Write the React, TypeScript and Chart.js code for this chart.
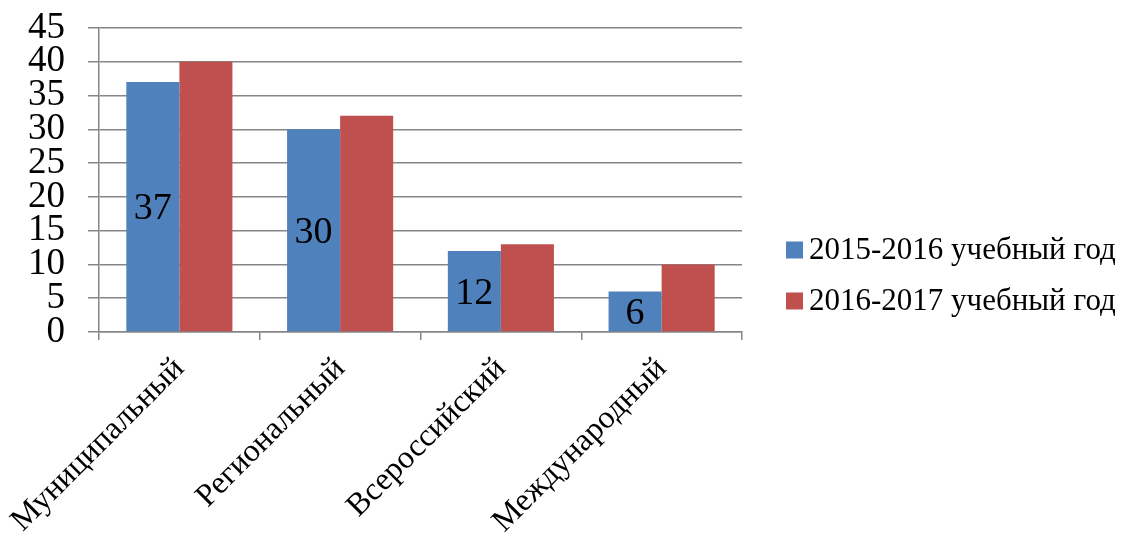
import React, { useEffect, useRef } from "react";
import { Chart, registerables } from "chart.js";

Chart.register(...registerables);

const categories = ["Муниципальный", "Региональный", "Всероссийский", "Международный"];
const series2015 = [37, 30, 12, 6];
const series2016 = [40, 32, 13, 10];
const seriesNames = ["2015-2016 учебный год", "2016-2017 учебный год"];
const seriesColors = ["#4F81BD", "#C0504D"];
const yMin = 0;
const yMax = 45;
const yStep = 5;

const FONT = "'Liberation Serif', 'Times New Roman', serif";

const dataLabelPlugin = {
  id: "dataLabels",
  afterDatasetsDraw(chart: any) {
    const ctx = chart.ctx;
    const meta = chart.getDatasetMeta(0);
    const size = 38;
    ctx.save();
    ctx.font = `${size}px ${FONT}`;
    ctx.fillStyle = "#000";
    ctx.textAlign = "center";
    ctx.textBaseline = "alphabetic";
    meta.data.forEach((bar: any, i: number) => {
      const v = chart.data.datasets[0].data[i];
      ctx.fillText(String(v), bar.x, (bar.y + bar.base) / 2 + size * 0.33);
    });
    ctx.restore();
  },
};

const legendPlugin = {
  id: "customLegend",
  afterDraw(chart: any) {
    const ctx = chart.ctx;
    ctx.save();
    ctx.font = `31px ${FONT}`;
    ctx.textBaseline = "middle";
    ctx.textAlign = "left";
    const x0 = chart.chartArea.right + 44;
    const y0 = 250;
    const gap = 51;
    chart.data.datasets.forEach((ds: any, i: number) => {
      const cy = y0 + i * gap;
      ctx.fillStyle = ds.backgroundColor;
      ctx.fillRect(x0, cy - 8.5, 17, 17);
      ctx.fillStyle = "#000";
      ctx.fillText(ds.label, x0 + 23, cy + 1);
    });
    ctx.restore();
  },
};

export default function App() {
  const ref = useRef<HTMLCanvasElement>(null);
  useEffect(() => {
    const canvas = ref.current;
    if (!canvas) return;
    const chart = new Chart(canvas, {
      type: "bar",
      data: {
        labels: categories,
        datasets: [
          { label: seriesNames[0], data: series2015, backgroundColor: seriesColors[0] },
          { label: seriesNames[1], data: series2016, backgroundColor: seriesColors[1] },
        ],
      },
      plugins: [dataLabelPlugin, legendPlugin],
      options: {
        responsive: false,
        animation: false,
        devicePixelRatio: 1,
        layout: { padding: { top: 28, right: 388, left: 0, bottom: 0 } },
        plugins: { legend: { display: false }, tooltip: { enabled: false } },
        datasets: { bar: { categoryPercentage: 0.66, barPercentage: 1 } },
        scales: {
          x: {
            grid: {
              offset: true,
              drawOnChartArea: false,
              drawTicks: true,
              tickLength: 8,
              color: "#868686",
              lineWidth: 1.5,
            },
            border: { display: true, color: "#868686", width: 1.5 },
            ticks: {
              minRotation: 45,
              maxRotation: 45,
              autoSkip: false,
              padding: 10,
              labelOffset: 0,
              color: "#000",
              font: { family: FONT, size: 32 },
            },
            afterFit(scale: any) {
              scale.height = 201;
              scale.paddingLeft = 0;
              scale.paddingRight = 0;
            },
          },
          y: {
            min: yMin,
            max: yMax,
            grid: { color: "#868686", lineWidth: 1.5, tickLength: 11 },
            border: { display: true, color: "#868686", width: 1.5 },
            ticks: {
              stepSize: yStep,
              autoSkip: false,
              padding: 23,
              color: "#000",
              font: { family: FONT, size: 37, lineHeight: 1 },
            },
            afterFit(scale: any) {
              scale.width = 99;
              scale.paddingTop = 0;
              scale.paddingBottom = 0;
            },
          },
        },
      } as any,
    });
    return () => chart.destroy();
  }, []);
  return (
    <div style={{ position: "fixed", left: 0, top: 0, width: 1130, height: 533, background: "#fff" }}>
      <canvas ref={ref} width={1130} height={533} style={{ width: 1130, height: 533 }} />
    </div>
  );
}
